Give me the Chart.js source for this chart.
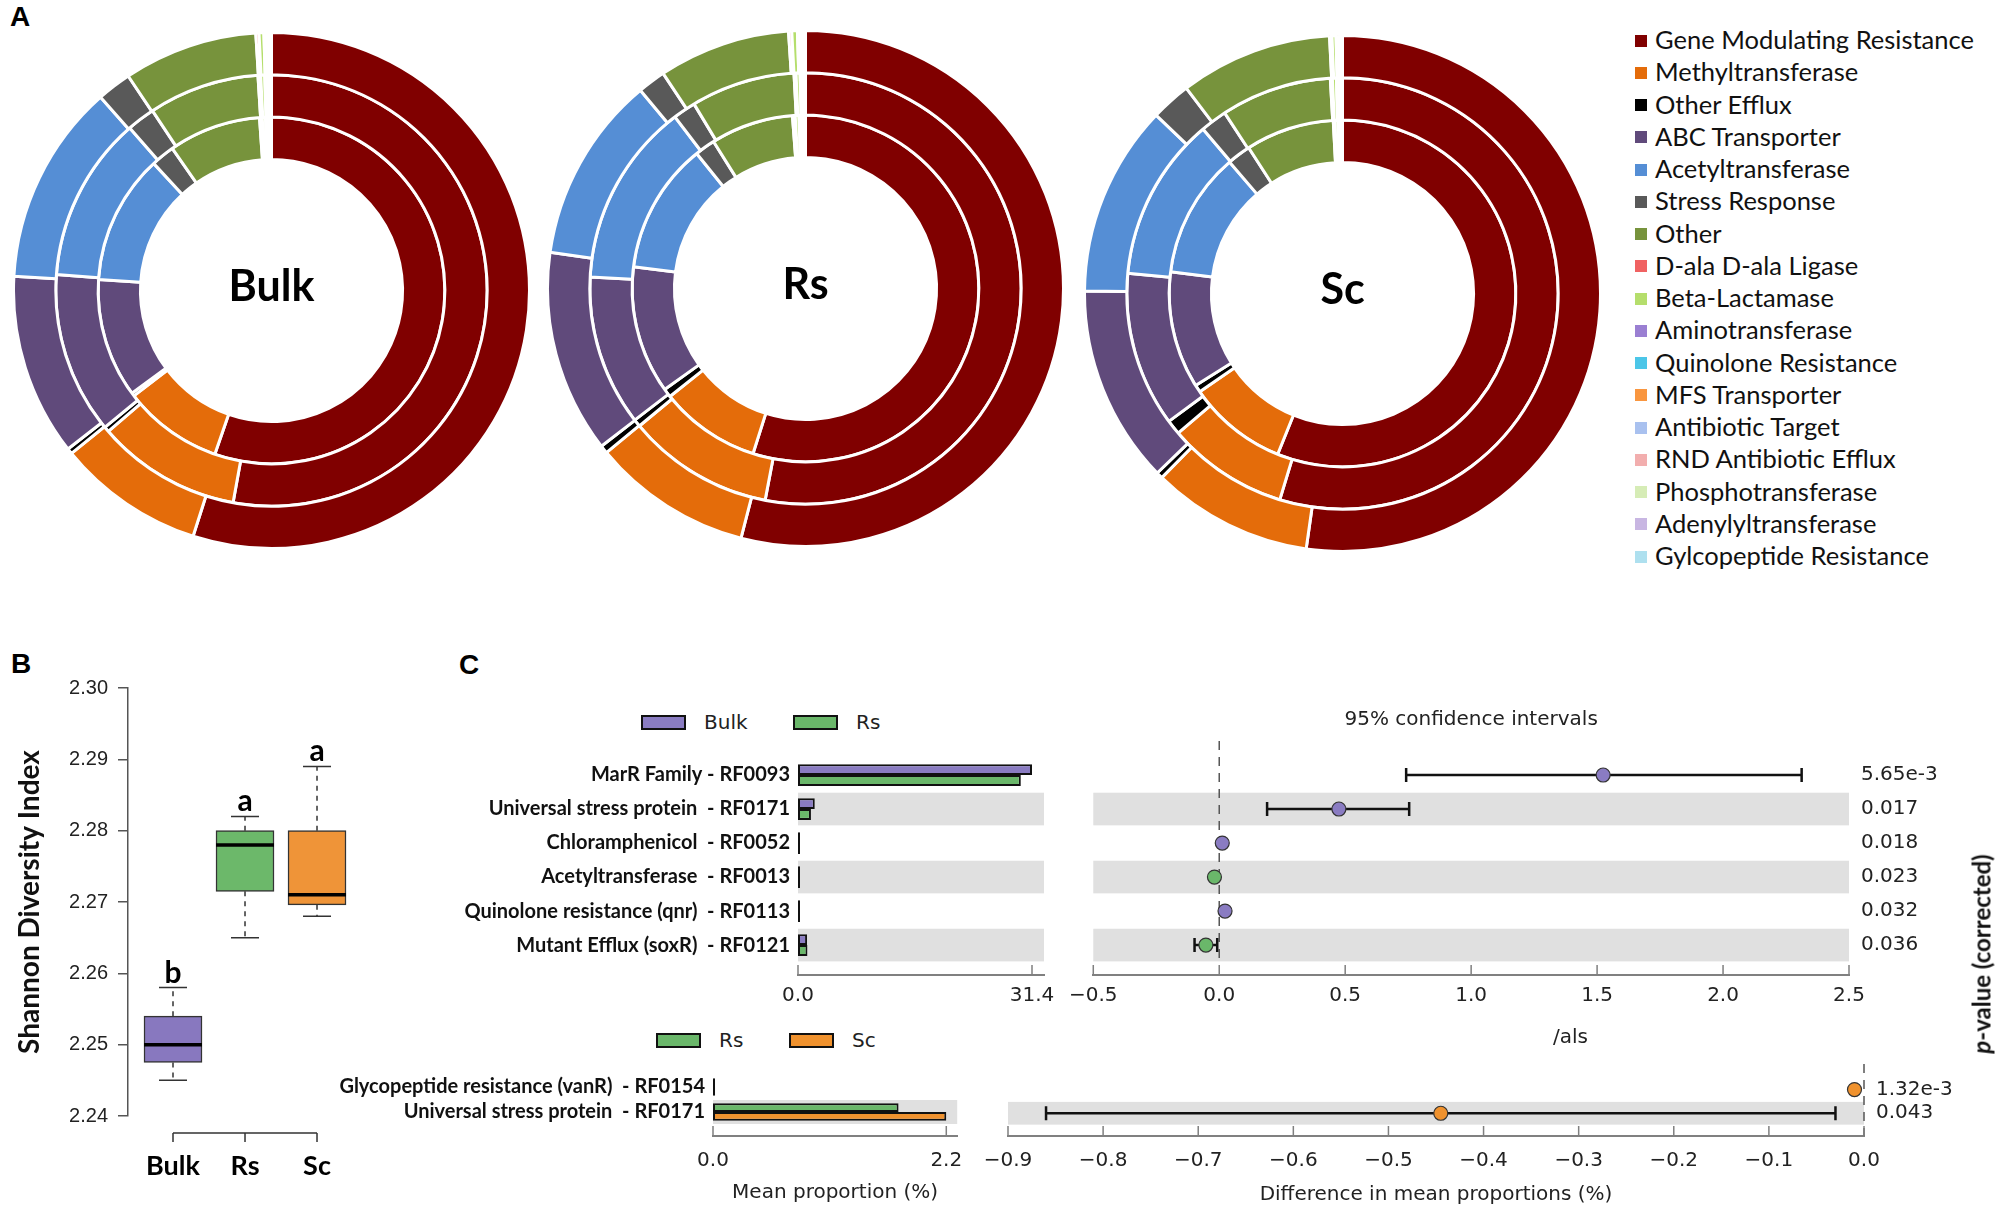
<!DOCTYPE html>
<html>
<head>
<meta charset="utf-8">
<title>Antibiotic resistance genes</title>
<script src="https://cdn.jsdelivr.net/npm/chart.js@4.4.1/dist/chart.umd.min.js"></script>
<style>
  body { margin: 0; background: #fff; }
  #page { position: relative; width: 2000px; height: 1215px; overflow: hidden; background: #fff; }
  canvas { position: absolute; }
  .panel { position: absolute; font: bold 28px 'Liberation Sans', Arial, sans-serif; line-height: 1; color: #000; }
  #arLegend { position: absolute; left: 1635px; top: 23px; font: 25.5px Lato, sans-serif; color: #111; }
  #arLegend div { height: 32.25px; line-height: 32.25px; white-space: nowrap; }
  #arLegend span { display: inline-block; width: 12px; height: 12px; margin-right: 8px; vertical-align: middle; position: relative; top: -2px; }
  .mini { position: absolute; height: 24px; display: flex; align-items: center; font: 20px 'DejaVu Sans', sans-serif; color: #222; }
  .mini .sw { display: inline-block; width: 41px; height: 11px; border: 2px solid #111; margin-right: 18px; }
  .txt { position: absolute; white-space: nowrap; }
</style>
</head>
<body>
<div id="page">
  <div class="panel" style="left:10px;top:3px">A</div>
  <div class="panel" style="left:11px;top:650px">B</div>
  <div class="panel" style="left:459px;top:651px">C</div>

  <canvas id="donutBulk" width="519" height="519" style="left:12px;top:31px"></canvas>
  <canvas id="donutRs" width="519" height="519" style="left:546px;top:29px"></canvas>
  <canvas id="donutSc" width="519" height="519" style="left:1083px;top:34px"></canvas>
  <div id="arLegend"></div>

  <canvas id="shannon" width="440" height="575" style="left:0px;top:640px"></canvas>

  <div id="legTop"></div>
  <div id="legBot"></div>
  <canvas id="meanTop" width="626" height="320" style="left:440px;top:700px"></canvas>
  <canvas id="ciTop" width="940" height="320" style="left:1060px;top:700px"></canvas>
  <canvas id="meanBot" width="676" height="175" style="left:300px;top:1040px"></canvas>
  <canvas id="ciBot" width="1030" height="175" style="left:970px;top:1040px"></canvas>

  <div class="txt" style="left:1553px;top:1024px;font:20px 'DejaVu Sans';color:#222">/als</div>
  <div class="txt" style="left:1981px;top:954px;transform:translate(-50%,-50%) rotate(-90deg);font:bold 24px Lato;color:#111"><i>p</i>-value (corrected)</div>
</div>

<script>
Chart.defaults.font.family = 'DejaVu Sans';
Chart.defaults.color = '#222';
Chart.defaults.animation = false;
Chart.defaults.plugins.legend.display = false;
Chart.defaults.plugins.tooltip.enabled = false;

// ---- A: resistance classes, three rings per site ----
const arCats = ['Gene Modulating Resistance', 'Methyltransferase', 'Other Efflux', 'ABC Transporter',
  'Acetyltransferase', 'Stress Response', 'Other', 'D-ala D-ala Ligase', 'Beta-Lactamase',
  'Aminotransferase', 'Quinolone Resistance', 'MFS Transporter', 'Antibiotic Target',
  'RND Antibiotic Efflux', 'Phosphotransferase', 'Adenylyltransferase', 'Gylcopeptide Resistance'];
const arColors = ['#800000', '#e46c0a', '#000000', '#604a7b', '#558ed5', '#595959', '#77933c',
  '#f06262', '#b5de6c', '#9a7fd2', '#4cc6e8', '#f9963f', '#a9c1ef', '#f2aeae', '#d6ecb6', '#c8b6e2', '#aee0ef'];

const bulkOuter  = [54.9, 9.2, 0.35, 11.4, 12.6, 2.15, 8.4, 0.2, 0.3, 0.05, 0.05, 0.05, 0.05, 0.1, 0.1, 0.03, 0.04];
const bulkMiddle = [52.8, 10.8, 0.4, 12.1, 12.4, 2.1, 8.3, 0.2, 0.3, 0.05, 0.05, 0.05, 0.05, 0.1, 0.1, 0.05, 0.05];
const bulkInner  = [55.3, 9.3, 0.3, 11.1, 12.1, 2.2, 8.6, 0.25, 0.3, 0.05, 0.05, 0.05, 0.05, 0.15, 0.1, 0.05, 0.05];
const rsOuter    = [54.0, 10.0, 0.5, 12.7, 11.7, 1.75, 8.25, 0.2, 0.35, 0.05, 0.05, 0.05, 0.05, 0.1, 0.1, 0.05, 0.05];
const rsMiddle   = [53.0, 11.0, 0.55, 11.3, 13.8, 1.7, 7.8, 0.15, 0.3, 0.05, 0.05, 0.05, 0.05, 0.05, 0.05, 0.05, 0.05];
const rsInner    = [54.9, 9.4, 0.8, 11.9, 12.2, 1.9, 7.7, 0.25, 0.35, 0.05, 0.05, 0.05, 0.05, 0.15, 0.15, 0.05, 0.05];
const scOuter    = [52.25, 10.1, 0.4, 12.4, 12.0, 2.5, 9.55, 0.15, 0.25, 0.05, 0.05, 0.05, 0.05, 0.05, 0.05, 0.05, 0.05];
const scMiddle   = [54.7, 9.1, 1.1, 11.6, 12.3, 2.0, 8.3, 0.15, 0.3, 0.05, 0.05, 0.05, 0.05, 0.05, 0.1, 0.05, 0.05];
const scInner    = [56.1, 9.3, 0.7, 10.9, 11.7, 2.2, 8.25, 0.15, 0.3, 0.05, 0.05, 0.05, 0.05, 0.05, 0.05, 0.05, 0.05];

// ---- B: Shannon diversity ----
const groups = ['Bulk', 'Rs', 'Sc'];
const groupColors = ['#8878bf', '#6cb86a', '#ef9438'];
const shMin = [2.245, 2.265, 2.268];
const shQ1  = [2.2475, 2.2715, 2.2696];
const shMed = [2.250, 2.278, 2.271];
const shQ3  = [2.254, 2.280, 2.280];
const shMax = [2.258, 2.282, 2.289];
const shLetters = ['b', 'a', 'a'];

// ---- C: STAMP comparisons ----
const bulkCol = '#8a7cc2', rsCol = '#6ab76a', scCol = '#f0922e';
const featTop = ['MarR Family - RF0093', 'Universal stress protein  - RF0171', 'Chloramphenicol  - RF0052',
  'Acetyltransferase  - RF0013', 'Quinolone resistance (qnr)  - RF0113', 'Mutant Efflux (soxR)  - RF0121'];
const bulkMean = [31.4, 2.25, 0.04, 0.05, 0.04, 1.22];
const rsMean   = [29.9, 1.73, 0.03, 0.07, 0.02, 1.27];
const diffTop   = [1.524, 0.475, 0.012, -0.019, 0.023, -0.053];
const ciLowTop  = [0.742, 0.19, 0.010, -0.021, 0.021, -0.098];
const ciHighTop = [2.312, 0.754, 0.014, -0.017, 0.025, -0.008];
const pTop = ['5.65e-3', '0.017', '0.018', '0.023', '0.032', '0.036'];

const featBot = ['Glycopeptide resistance (vanR)  - RF0154', 'Universal stress protein  - RF0171'];
const rsMeanB = [0.01, 1.75];
const scMeanB = [0.02, 2.2];
const diffBot   = [-0.010, -0.445];
const ciLowBot  = [-0.011, -0.86];
const ciHighBot = [-0.009, -0.03];
const pBot = ['1.32e-3', '0.043'];

// legend for A
const legEl = document.getElementById('arLegend');
arCats.forEach((c, i) => {
  const d = document.createElement('div');
  d.innerHTML = '<span style="background:' + arColors[i] + '"></span>' + c;
  legEl.appendChild(d);
});

function miniLegend(el, top, items) {
  items.forEach(it => {
    const d = document.createElement('div');
    d.className = 'mini';
    d.style.left = it.left + 'px';
    d.style.top = top + 'px';
    d.innerHTML = '<span class="sw" style="background:' + it.color + '"></span>' + it.label;
    document.getElementById(el).appendChild(d);
  });
}
miniLegend('legTop', 710, [{ left: 641, color: bulkCol, label: 'Bulk' }, { left: 793, color: rsCol, label: 'Rs' }]);
miniLegend('legBot', 1028, [{ left: 656, color: rsCol, label: 'Rs' }, { left: 789, color: scCol, label: 'Sc' }]);

// donut centre label
const centerText = {
  id: 'centerText',
  afterDraw(chart, args, opts) {
    const { ctx, chartArea: a } = chart;
    ctx.save();
    ctx.font = 'bold 43px Lato';
    ctx.fillStyle = '#000';
    ctx.textAlign = 'center';
    ctx.textBaseline = 'middle';
    ctx.fillText(opts.text, (a.left + a.right) / 2, (a.top + a.bottom) / 2 - 3);
    ctx.restore();
  }
};

function makeDonut(id, label, rings) {
  new Chart(document.getElementById(id), {
    type: 'doughnut',
    data: {
      labels: arCats,
      datasets: rings.map(r => ({ data: r, backgroundColor: arColors, borderColor: '#fff', borderWidth: 3 }))
    },
    options: {
      responsive: false,
      cutout: '50.8%',
      layout: { padding: 0 },
      plugins: { centerText: { text: label } }
    },
    plugins: [centerText]
  });
}
makeDonut('donutBulk', 'Bulk', [bulkOuter, bulkMiddle, bulkInner]);
makeDonut('donutRs', 'Rs', [rsOuter, rsMiddle, rsInner]);
makeDonut('donutSc', 'Sc', [scOuter, scMiddle, scInner]);

// box plot extras: whiskers, medians, letters, group axis
const boxExtras = {
  id: 'boxExtras',
  afterDatasetsDraw(chart) {
    const { ctx, chartArea: ca, scales: { x, y } } = chart;
    ctx.save();
    groups.forEach((g, i) => {
      const px = x.getPixelForValue(i + 1);
      const yMax = y.getPixelForValue(shMax[i]), yMin = y.getPixelForValue(shMin[i]);
      ctx.strokeStyle = '#333';
      ctx.lineWidth = 1.5;
      ctx.setLineDash([5, 5]);
      ctx.beginPath();
      ctx.moveTo(px, y.getPixelForValue(shQ3[i])); ctx.lineTo(px, yMax);
      ctx.moveTo(px, y.getPixelForValue(shQ1[i])); ctx.lineTo(px, yMin);
      ctx.stroke();
      ctx.setLineDash([]);
      ctx.beginPath();
      ctx.moveTo(px - 14, yMax); ctx.lineTo(px + 14, yMax);
      ctx.moveTo(px - 14, yMin); ctx.lineTo(px + 14, yMin);
      ctx.stroke();
      ctx.strokeStyle = '#000';
      ctx.lineWidth = 3.5;
      const ym = y.getPixelForValue(shMed[i]);
      ctx.beginPath(); ctx.moveTo(px - 29, ym); ctx.lineTo(px + 29, ym); ctx.stroke();
      ctx.fillStyle = '#000';
      ctx.font = 'bold 30px Lato';
      ctx.textAlign = 'center';
      ctx.textBaseline = 'alphabetic';
      ctx.fillText(shLetters[i], px, yMax - 5);
    });
    const yb = ca.bottom + 17;
    const x1 = x.getPixelForValue(1), x3 = x.getPixelForValue(groups.length);
    ctx.strokeStyle = '#333';
    ctx.lineWidth = 1.5;
    ctx.beginPath();
    ctx.moveTo(x1, yb); ctx.lineTo(x3, yb);
    groups.forEach((g, i) => { const px = x.getPixelForValue(i + 1); ctx.moveTo(px, yb); ctx.lineTo(px, yb + 9); });
    ctx.stroke();
    ctx.font = 'bold 27px Lato';
    ctx.textAlign = 'center';
    ctx.textBaseline = 'middle';
    groups.forEach((g, i) => ctx.fillText(g, x.getPixelForValue(i + 1), yb + 33));
    ctx.restore();
  }
};

new Chart(document.getElementById('shannon'), {
  type: 'bar',
  data: {
    datasets: [{
      data: groups.map((g, i) => ({ x: i + 1, y: [shQ1[i], shQ3[i]] })),
      backgroundColor: groupColors,
      borderColor: '#333',
      borderWidth: 1.5,
      borderSkipped: false,
      barThickness: 58
    }]
  },
  options: {
    responsive: false,
    layout: { padding: { top: 48, bottom: 99, left: 0, right: 80 } },
    scales: {
      x: { type: 'linear', offset: false, min: 0.375, max: 3.597, display: false },
      y: {
        min: 2.24, max: 2.30,
        afterFit: s => { s.width = 128; },
        ticks: { stepSize: 0.01, callback: v => v.toFixed(2), font: { family: 'Liberation Sans', size: 20 }, color: '#222', padding: 10 },
        grid: { drawOnChartArea: false, drawTicks: true, tickLength: 10, color: '#555', lineWidth: 1.5 },
        border: { color: '#555', width: 1.5 },
        title: { display: true, text: 'Shannon Diversity Index', color: '#111', font: { family: 'Lato', weight: 'bold', size: 28 }, padding: { top: 13, bottom: 0 } }
      }
    }
  },
  plugins: [boxExtras]
});

// shared helpers for C
const bands = {
  id: 'bands',
  beforeDatasetsDraw(chart, args, o) {
    const { ctx, chartArea: ca, scales: { y } } = chart;
    ctx.save();
    ctx.fillStyle = '#e0e0e0';
    o.rows.forEach(i => {
      const t = y.getPixelForValue(i - 0.48), b = y.getPixelForValue(i + 0.48);
      ctx.fillRect(ca.left, t, ca.right - ca.left, b - t);
    });
    ctx.restore();
  }
};
const innerTicks = {
  id: 'innerTicks',
  afterDraw(chart) {
    const { ctx, chartArea: ca, scales: { x } } = chart;
    ctx.save();
    ctx.strokeStyle = '#808080';
    ctx.lineWidth = 1.5;
    ctx.beginPath();
    x.ticks.forEach(t => { const px = x.getPixelForValue(t.value); ctx.moveTo(px, ca.bottom); ctx.lineTo(px, ca.bottom - 10); });
    ctx.stroke();
    ctx.restore();
  }
};
const ciBars = {
  id: 'ciBars',
  beforeDatasetsDraw(chart, args, o) {
    const { ctx, chartArea: ca, scales: { x, y } } = chart;
    ctx.save();
    const x0 = x.getPixelForValue(0);
    ctx.strokeStyle = '#555';
    ctx.lineWidth = 1.5;
    ctx.setLineDash([9, 7]);
    ctx.beginPath(); ctx.moveTo(x0, ca.top); ctx.lineTo(x0, y.getPixelForValue(o.zeroTo)); ctx.stroke();
    ctx.setLineDash([]);
    ctx.strokeStyle = '#111';
    ctx.lineWidth = 2.5;
    o.lo.forEach((lo, i) => {
      const a = x.getPixelForValue(lo), b = x.getPixelForValue(o.hi[i]), py = y.getPixelForValue(i);
      if (b - a < 4) return;
      ctx.beginPath();
      ctx.moveTo(a, py); ctx.lineTo(b, py);
      ctx.moveTo(a, py - 7); ctx.lineTo(a, py + 7);
      ctx.moveTo(b, py - 7); ctx.lineTo(b, py + 7);
      ctx.stroke();
    });
    if (o.title) {
      ctx.fillStyle = '#222';
      ctx.font = '20px DejaVu Sans';
      ctx.textAlign = 'center';
      ctx.textBaseline = 'middle';
      ctx.fillText(o.title, (ca.left + ca.right) / 2, ca.top - 21);
    }
    ctx.restore();
  }
};
const fmtTick = v => Math.abs(v) < 1e-9 ? '0.0' : v.toFixed(1).replace('-', '\u2212');
const rowTicks = n => s => { s.ticks = Array.from({ length: n }, (_, i) => ({ value: i })); };

function meanChart(id, feats, sets, o) {
  new Chart(document.getElementById(id), {
    type: 'bar',
    data: {
      datasets: sets.map(st => ({
        data: st.values.map((v, i) => ({ x: v, y: i })),
        backgroundColor: st.color,
        borderColor: '#111',
        borderWidth: 2,
        borderSkipped: false,
        minBarLength: 2,
        categoryPercentage: o.catPct,
        barPercentage: 1
      }))
    },
    options: {
      indexAxis: 'y',
      responsive: false,
      layout: { padding: { top: o.padTop, right: o.padRight, left: 0, bottom: 0 } },
      scales: {
        x: {
          min: 0, max: o.xMax,
          afterBuildTicks: s => { s.ticks = o.xTicks.map(v => ({ value: v })); },
          afterFit: s => { s.height = o.axisH; },
          ticks: { callback: fmtTick, font: { size: 20 }, padding: o.tickPad },
          grid: { display: false, drawTicks: false },
          border: { color: '#808080', width: 2 },
          title: o.xTitle ? { display: true, text: o.xTitle, font: { size: 20 }, color: '#222', padding: { top: 0, bottom: 10 } } : { display: false }
        },
        y: {
          type: 'linear', offset: false, reverse: true, min: o.yMin, max: o.yMax,
          afterBuildTicks: rowTicks(feats.length),
          afterFit: s => { s.width = o.labelW; },
          ticks: { callback: v => feats[v], autoSkip: false, font: { family: 'Lato', weight: 'bold', size: 20 }, color: '#111', padding: 8 },
          grid: { display: false, drawTicks: false },
          border: { display: false }
        }
      },
      plugins: { bands: { rows: o.bandRows } }
    },
    plugins: [bands, innerTicks]
  });
}

function ciChart(id, diffs, lo, hi, pvals, posCol, negCol, o) {
  new Chart(document.getElementById(id), {
    type: 'scatter',
    data: {
      datasets: [{
        data: diffs.map((d, i) => ({ x: d, y: i })),
        pointBackgroundColor: diffs.map(d => d > 0 ? posCol : negCol),
        pointBorderColor: '#333',
        pointBorderWidth: 1.2,
        pointRadius: 7,
        clip: false
      }]
    },
    options: {
      responsive: false,
      layout: { padding: { left: o.padLeft, top: o.padTop, right: 0, bottom: 0 } },
      scales: {
        x: {
          type: 'linear', min: o.xMin, max: o.xMax,
          afterFit: s => { s.height = o.axisH; },
          ticks: { stepSize: o.step, callback: fmtTick, font: { size: 20 }, padding: o.tickPad },
          grid: { display: false, drawTicks: false },
          border: { color: '#808080', width: 2 },
          title: o.xTitle ? { display: true, text: o.xTitle, font: { size: 20 }, color: '#222', padding: { top: 0, bottom: 8 } } : { display: false }
        },
        y: {
          type: 'linear', position: 'right', reverse: true, min: o.yMin, max: o.yMax,
          afterBuildTicks: rowTicks(diffs.length),
          afterFit: s => { s.width = o.pW; },
          ticks: { callback: v => pvals[v], autoSkip: false, font: { size: 20 }, color: '#222', padding: 12 },
          grid: { display: false, drawTicks: false },
          border: { display: false }
        }
      },
      plugins: {
        bands: { rows: o.bandRows },
        ciBars: { lo: lo, hi: hi, zeroTo: o.zeroTo, title: o.title }
      }
    },
    plugins: [bands, ciBars, innerTicks]
  });
}

meanChart('meanTop', featTop, [{ values: bulkMean, color: bulkCol }, { values: rsMean, color: rsCol }], {
  catPct: 0.64, padTop: 41, padRight: 22, xMax: 33.01, xTicks: [0, 31.4], axisH: 45, tickPad: 9,
  yMin: -1.0, yMax: 5.88, labelW: 358, bandRows: [1, 3, 5]
});
ciChart('ciTop', diffTop, ciLowTop, ciHighTop, pTop, bulkCol, rsCol, {
  padLeft: 31, padTop: 41, xMin: -0.5, xMax: 2.5, step: 0.5, axisH: 45, tickPad: 9,
  yMin: -1.0, yMax: 5.88, pW: 151, bandRows: [1, 3, 5], zeroTo: 5.5, title: '95% confidence intervals'
});
meanChart('meanBot', featBot, [{ values: rsMeanB, color: rsCol }, { values: scMeanB, color: scCol }], {
  catPct: 0.7, padTop: 20, padRight: 18, xMax: 2.303, xTicks: [0, 2.2], axisH: 79, tickPad: 13,
  yMin: -1.08, yMax: 1.96, labelW: 413, bandRows: [1], xTitle: 'Mean proportion (%)'
});
ciChart('ciBot', diffBot, ciLowBot, ciHighBot, pBot, rsCol, scCol, {
  padLeft: 38, padTop: 20, xMin: -0.9, xMax: 0, step: 0.1, axisH: 79, tickPad: 13,
  yMin: -1.08, yMax: 1.96, pW: 136, bandRows: [1], zeroTo: 1.96,
  xTitle: 'Difference in mean proportions (%)'
});
</script>
</body>
</html>
